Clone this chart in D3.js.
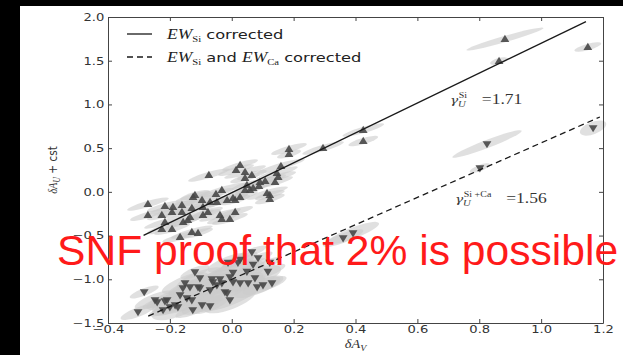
<!DOCTYPE html>
<html>
<head>
<meta charset="utf-8">
<script src="https://d3js.org/d3.v7.min.js"></script>
<style>
  body { margin: 0; background: #000; }
</style>
</head>
<body>
<div id="chart"></div>
<script>
// delta A_V / delta A_U for the Si-corrected sample (triangles up)
var upX = [-0.074, 0.014, -0.032, -0.051, -0.119, -0.096, -0.070, -0.048, -0.015, 0.011,
  -0.271, -0.216, -0.190, -0.161, -0.129, -0.193, -0.161, -0.093, -0.271, -0.226,
  -0.135, -0.093, -0.038, 0.011, -0.032, -0.006, -0.216, -0.157, -0.226, -0.193, -0.129, -0.109, -0.167,
  0.425, 0.425, 0.295, 0.185, 0.185,
  0.027, 0.043, 0.065, 0.159, 0.146, 0.150, 0.043, 0.108, 0.140, 0.049, 0.088, 0.059, 0.043, 0.114, 0.004, 0.027, 0.123,
  0.883, 0.864, 1.151,
  -0.125, -0.077, 0.069, 0.091, 0.123, -0.142];
var upY = [0.192, 0.249, 0.021, -0.025, -0.037, -0.094, -0.117, -0.117, -0.094, -0.094,
  -0.140, -0.163, -0.174, -0.151, -0.186, -0.231, -0.231, -0.174, -0.265, -0.265,
  -0.288, -0.265, -0.265, -0.231, -0.311, -0.311, -0.345, -0.345, -0.425, -0.425, -0.460, -0.471, -0.517,
  0.707, 0.581, 0.501, 0.490, 0.432,
  0.306, 0.227, 0.192, 0.295, 0.215, 0.169, 0.158, 0.124, 0.112, 0.078, 0.066, 0.021, 0.021, -0.014, -0.071, -0.059, -0.082,
  1.748, 1.496, 1.657,
  -0.059, -0.231, 0.043, 0.112, -0.037, -0.323];
// half length of the error ellipse, in delta A_V units
var upErr = [0.07, 0.06, 0.08, 0.06, 0.05, 0.07, 0.06, 0.06, 0.07, 0.05,
  0.07, 0.06, 0.08, 0.06, 0.07, 0.05, 0.06, 0.07, 0.06, 0.05,
  0.08, 0.06, 0.07, 0.06, 0.05, 0.06, 0.07, 0.06, 0.05, 0.06, 0.07, 0.05, 0.06,
  0.07, 0.05, 0.07, 0.06, 0.04,
  0.06, 0.07, 0.05, 0.08, 0.07, 0.06, 0.05, 0.07, 0.06, 0.05, 0.06, 0.05, 0.06, 0.07, 0.05, 0.06, 0.05,
  0.13, 0.03, 0.045,
  0.06, 0.05, 0.06, 0.07, 0.05, 0.06];

// Si + Ca corrected sample (triangles down)
var downX = [-0.283, -0.248, -0.303, -0.209, -0.200, -0.174, -0.158, -0.145, -0.129, -0.126,
  -0.103, -0.070, -0.061, -0.032, -0.006, 0.004, -0.015, -0.006, 0.027, 0.053,
  0.075, 0.101, 0.130, 0.082, -0.012, 0.020, 0.004, 0.049, 0.069, 0.027,
  -0.167, -0.183, -0.119, -0.151, -0.109, -0.048, -0.103, -0.064, -0.038, -0.241,
  -0.216, -0.096, -0.070, -0.222, 0.065, 0.085, 0.123, 0.117, -0.022, -0.135,
  0.360, 0.392, 0.825, 0.802, 1.168];
var downY = [-1.146, -1.238, -1.375, -1.238, -1.318, -1.318, -1.101, -1.215, -1.238, -1.352,
  -1.101, -1.124, -1.032, -1.044, -0.975, -1.032, -1.158, -1.238, -1.044, -1.044,
  -0.987, -1.067, -1.044, -1.090, -0.810, -0.810, -0.924, -0.913, -0.833, -0.776,
  -1.181, -1.295, -0.918, -1.044, -1.090, -1.067, -0.987, -0.998, -0.998, -1.261,
  -1.250, -1.295, -1.307, -1.352, -0.689, -0.757, -0.810, -0.913, -1.146, -1.090,
  -0.529, -0.472, 0.547, 0.272, 0.730];
var downErr = [0.05, 0.07, 0.06, 0.07, 0.06, 0.09, 0.05, 0.12, 0.08, 0.06,
  0.08, 0.11, 0.06, 0.09, 0.12, 0.07, 0.13, 0.09, 0.08, 0.06,
  0.09, 0.07, 0.05, 0.08, 0.07, 0.06, 0.09, 0.05, 0.05, 0.06,
  0.07, 0.06, 0.05, 0.08, 0.09, 0.06, 0.08, 0.07, 0.05, 0.05,
  0.05, 0.07, 0.06, 0.05, 0.05, 0.05, 0.04, 0.06, 0.08, 0.07,
  0.07, 0.09, 0.12, 0.035, 0.045];
var downWid = [0.012, 0.02, 0.015, 0.022, 0.02, 0.03, 0.015, 0.035, 0.025, 0.015,
  0.025, 0.035, 0.015, 0.028, 0.04, 0.02, 0.042, 0.03, 0.022, 0.015,
  0.028, 0.02, 0.015, 0.022, 0.02, 0.015, 0.028, 0.015, 0.012, 0.015,
  0.02, 0.015, 0.015, 0.022, 0.028, 0.02, 0.022, 0.02, 0.015, 0.012,
  0.015, 0.02, 0.015, 0.012, 0.012, 0.012, 0.012, 0.015, 0.022, 0.02,
  0.015, 0.018, 0.013, 0.01, 0.02];

// linear fits: [slope, intercept] and x range
var siFit = [1.71, -0.01], siFitX = [-0.285, 1.145];
var caFit = [1.56, -1.0], caFitX = [-0.27, 1.19];

var xTickVals = [-0.4, -0.2, 0.0, 0.2, 0.4, 0.6, 0.8, 1.0, 1.2];
var yTickVals = [-1.5, -1.0, -0.5, 0.0, 0.5, 1.0, 1.5, 2.0];

var W = 623, H = 355;
var margin = {top: 17, right: 20, bottom: 32, left: 108},
    width = W - margin.left - margin.right,
    height = H - margin.top - margin.bottom;
var stretch = 1.25;   // figure text is drawn a bit wide
var serif = "'Liberation Serif', 'DejaVu Serif', serif";
var sans = "'DejaVu Sans', sans-serif";

var svg = d3.select("#chart").append("svg")
    .attr("width", W).attr("height", H);
svg.append("rect").attr("width", W).attr("height", H).attr("fill", "#000");
svg.append("rect").attr("x", 20).attr("y", 6)
    .attr("width", W - 20).attr("height", H - 6).attr("fill", "#fff");

var g = svg.append("g")
    .attr("transform", "translate(" + margin.left + "," + margin.top + ")");

var x = d3.scaleLinear().domain([-0.4, 1.2]).range([0, width]);
var y = d3.scaleLinear().domain([-1.5, 2.0]).range([height, 0]);
var px = function(v) { return x(v) - x(0); };

// error ellipses
function ellipses(xs, ys, errs, wids, angle, cls) {
  g.selectAll("ellipse." + cls)
    .data(xs.map(function(d, i) { return {x: d, y: ys[i], a: errs[i], b: wids[i]}; }))
    .enter().append("ellipse")
      .attr("class", cls)
      .attr("transform", function(d) { return "translate(" + x(d.x) + "," + y(d.y) + ") rotate(" + angle + ")"; })
      .attr("rx", function(d) { return px(d.a); })
      .attr("ry", function(d) { return px(d.b); })
      .attr("fill", "#cccccc")
      .attr("fill-opacity", 0.6);
}
ellipses(upX, upY, upErr, upErr.map(function() { return 0.010; }), -16, "eu");
ellipses(downX, downY, downErr, downWid, -21, "ed");

// markers
var triUp = "M0,-4.3L4.4,2.9L-4.4,2.9Z", triDown = "M0,4.3L4.4,-2.9L-4.4,-2.9Z";
function markers(xs, ys, shape, cls) {
  g.selectAll("path." + cls)
    .data(xs.map(function(d, i) { return [d, ys[i]]; }))
    .enter().append("path")
      .attr("class", cls)
      .attr("d", shape)
      .attr("transform", function(d) { return "translate(" + x(d[0]) + "," + y(d[1]) + ")"; })
      .attr("fill", "#474747")
      .attr("fill-opacity", 0.9);
}
markers(upX, upY, triUp, "mu");
markers(downX, downY, triDown, "md");

// fit lines
var line = d3.line().x(function(d) { return x(d[0]); }).y(function(d) { return y(d[1]); });
function fitPts(fit, xr) { return xr.map(function(v) { return [v, fit[0] * v + fit[1]]; }); }
g.append("path").attr("d", line(fitPts(siFit, siFitX)))
    .attr("stroke", "#1a1a1a").attr("stroke-width", 1.3).attr("fill", "none");
g.append("path").attr("d", line(fitPts(caFit, caFitX)))
    .attr("stroke", "#1a1a1a").attr("stroke-width", 1.3).attr("fill", "none")
    .attr("stroke-dasharray", "6,4");

// axes, ticks pointing inwards on all four sides
var fmt = d3.format(".1f");
function styleAxis(a) {
  a.select(".domain").attr("stroke", "#444");
  a.selectAll(".tick line").attr("stroke", "#444");
  a.selectAll("text").attr("font-family", sans).attr("font-size", 10.5).attr("fill", "#333")
    .attr("transform", "scale(" + stretch + ",1)");
}
var xa = g.append("g").attr("transform", "translate(0," + height + ")")
    .call(d3.axisBottom(x).tickValues(xTickVals).tickSize(-4).tickSizeOuter(0).tickPadding(3).tickFormat(fmt));
styleAxis(xa);
var ya = g.append("g")
    .call(d3.axisLeft(y).tickValues(yTickVals).tickSize(-4).tickSizeOuter(0).tickPadding(3).tickFormat(fmt));
styleAxis(ya);
var xt = g.append("g")
    .call(d3.axisTop(x).tickValues(xTickVals).tickSize(-4).tickSizeOuter(0).tickFormat(""));
styleAxis(xt);
var yr = g.append("g").attr("transform", "translate(" + width + ",0)")
    .call(d3.axisRight(y).tickValues(yTickVals).tickSize(-4).tickSizeOuter(0).tickFormat(""));
styleAxis(yr);

// axis labels
var yl = svg.append("text")
    .attr("transform", "translate(57," + (margin.top + height / 2) + ") rotate(-90) scale(1," + stretch + ")")
    .attr("text-anchor", "middle").attr("fill", "#333").attr("font-size", 10.5);
yl.append("tspan").attr("font-family", serif).attr("font-style", "italic").text("δA");
yl.append("tspan").attr("font-family", serif).attr("font-style", "italic").attr("font-size", 7.5).attr("dy", 2.5).text("U");
yl.append("tspan").attr("font-family", sans).attr("dy", -2.5).text(" + cst");

var xl = svg.append("text")
    .attr("transform", "translate(" + (margin.left + width / 2) + ",348) scale(" + stretch + ",1)")
    .attr("text-anchor", "middle").attr("fill", "#333").attr("font-size", 11.5)
    .attr("font-family", serif).attr("font-style", "italic");
xl.append("tspan").text("δA");
xl.append("tspan").attr("font-size", 8).attr("dy", 2.5).text("V");

// legend
function ewTerm(t, sub) {
  t.append("tspan").attr("font-family", serif).attr("font-style", "italic").attr("font-size", 14).attr("dy", 0).text("EW");
  t.append("tspan").attr("font-family", serif).attr("font-size", 8.5).attr("dy", 2.5).text(sub);
}
var legend = svg.append("g");
legend.append("line").attr("x1", 127).attr("x2", 152).attr("y1", 34).attr("y2", 34)
    .attr("stroke", "#1a1a1a").attr("stroke-width", 1.3);
legend.append("line").attr("x1", 127).attr("x2", 152).attr("y1", 57).attr("y2", 57)
    .attr("stroke", "#1a1a1a").attr("stroke-width", 1.3).attr("stroke-dasharray", "6,4");
var l1 = legend.append("text").attr("transform", "translate(167,39) scale(" + stretch + ",1)").attr("fill", "#222");
ewTerm(l1, "Si");
l1.append("tspan").attr("font-family", sans).attr("font-size", 13).attr("dy", -2.5).text(" corrected");
var l2 = legend.append("text").attr("transform", "translate(167,62) scale(" + stretch + ",1)").attr("fill", "#222");
ewTerm(l2, "Si");
l2.append("tspan").attr("font-family", sans).attr("font-size", 13).attr("dy", -2.5).text(" and ");
ewTerm(l2, "Ca");
l2.append("tspan").attr("font-family", sans).attr("font-size", 13).attr("dy", -2.5).text(" corrected");

// slope annotations
function gammaLabel(tx, ty, sup, value, valX) {
  var a = svg.append("g").attr("transform", "translate(" + tx + "," + ty + ") scale(" + stretch + ",1)")
      .attr("fill", "#333").attr("font-family", serif);
  a.append("text").attr("font-family", "'DejaVu Serif', serif").attr("font-style", "italic")
      .attr("font-size", 11).text("γ");
  a.append("text").attr("x", 7).attr("y", -6).attr("font-size", 8).text(sup);
  a.append("text").attr("x", 6.5).attr("y", 3).attr("font-size", 8.5).attr("font-style", "italic").text("U");
  a.append("text").attr("x", valX).attr("font-size", 14).text("=" + d3.format(".2f")(value));
}
gammaLabel(450, 104, "Si", siFit[0], 25.5);
gammaLabel(455, 203, "Si +Ca", caFit[0], 41);

// overlay caption
svg.append("text").attr("x", 57).attr("y", 265)
    .attr("font-family", "'Liberation Sans', Arial, sans-serif").attr("font-size", 42.6)
    .attr("fill", "#ff1a1a").text("SNF proof that 2% is possible");
</script>
</body>
</html>
